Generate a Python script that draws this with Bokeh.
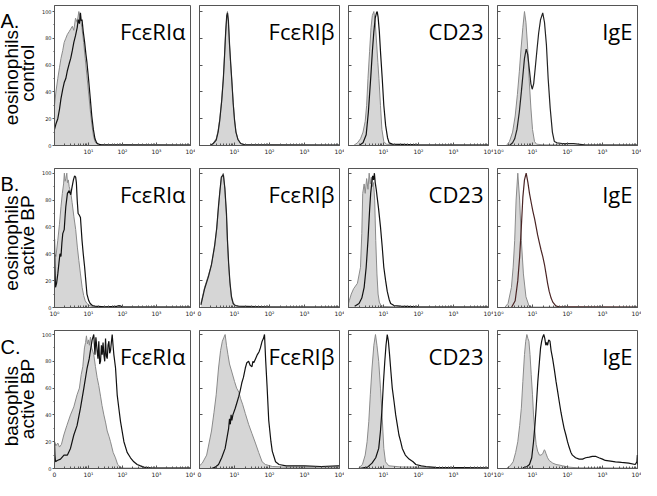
import math
from bokeh.plotting import figure
from bokeh.models import Range1d, FixedTicker, Label
from bokeh.layouts import row, column
from bokeh.embed import file_html
from bokeh.resources import INLINE

# ---------------- data (fluorescence intensity, % of max) ----------------
MARKERS = ["FcεRIα", "FcεRIβ", "CD23", "IgE"]
ROW_LETTERS = ["A.", "B.", "C."]
ROW_LINE1 = ["eosinophils", "eosinophils", "basophils"]
ROW_LINE2 = ["control", "active BP", "active BP"]
DECADES = [1, 10, 100, 1000, 10000]
X_TICK_LABELS = [
    [["", "10¹", "10²", "10³", "10⁴"], ["", "10¹", "10²", "10³", "10⁴"],
     ["", "10¹", "10²", "10³", "10⁴"], ["10⁰", "10¹", "10²", "10³", "10⁴"]],
    [["10⁰", "10¹", "10²", "10³", "10⁴"], ["0", "10¹", "10²", "10³", "10⁴"],
     ["", "10¹", "10²", "10³", "10⁴"], ["10⁰", "10¹", "10²", "10³", "10⁴"]],
    [["0", "10¹", "10²", "10³", "10⁴"], ["0", "10¹", "10²", "10³", "10⁴"],
     ["", "10¹", "10²", "10³", "10⁴"], ["10⁰", "10¹", "10²", "10³", "10⁴"]],
]
Y_TICKS = [0, 20, 40, 60, 80, 100]
Y_MINOR = [10, 30, 50, 70, 90]

# Row A: eosinophils control
A1_GRAY_X = [1.0, 1.1, 1.25, 1.4, 1.55, 1.75, 1.93, 2.15, 2.4, 2.7, 3.0, 3.35, 3.7, 4.15, 4.65, 5.2, 5.8, 6.4, 7.2, 8.0, 9.0, 10.0, 11.2, 12.5, 14.0, 15.5, 17.3, 20.0, 24.0, 40.0, 10000.0]
A1_GRAY_Y = [30, 40, 50, 58, 65, 71, 77, 80, 83, 85, 87, 89, 86, 95, 92, 100, 94, 88, 77, 65, 52, 40, 27, 16, 7, 3, 1.5, 0.8, 0.5, 0.3, 0.3]
A1_BLACK_X = [1.0, 1.1, 1.25, 1.4, 1.55, 1.75, 1.93, 2.15, 2.4, 2.7, 3.0, 3.35, 3.7, 4.15, 4.65, 5.0, 5.4, 5.8, 6.1, 6.45, 7.0, 7.7, 8.4, 9.0, 10.0, 11.2, 12.5, 13.9, 15.5, 17.3, 19.3, 24.0, 100.0, 10000.0]
A1_BLACK_Y = [12, 16, 20, 27, 35, 42, 47, 50, 56, 61, 65, 71, 77, 82, 88, 94, 91, 99, 93, 94, 85, 77, 68, 62, 50, 36, 22, 12, 5, 2, 1, 0.5, 0.5, 0.3]

A2_GRAY_X = [2.0, 2.5, 3.0, 3.4, 3.8, 4.3, 4.8, 5.2, 5.6, 6.0, 6.3, 6.7, 7.2, 7.8, 8.4, 9.2, 10.0, 11.0, 12.5, 15.0, 20.0, 10000.0]
A2_GRAY_Y = [0, 2, 5, 11, 20, 34, 50, 68, 84, 96, 100, 92, 75, 60, 48, 32, 20, 10, 5, 1.5, 0.5, 0.3]
A2_BLACK_X = [2.0, 2.5, 3.0, 3.4, 3.8, 4.3, 4.8, 5.2, 5.6, 6.0, 6.3, 6.7, 7.2, 7.8, 8.4, 9.2, 10.0, 11.0, 12.5, 15.0, 20.0, 10000.0]
A2_BLACK_Y = [0, 1.5, 4, 10, 19, 33, 50, 67, 85, 97, 99, 93, 76, 61, 48, 31, 19, 10, 4.5, 1.5, 0.5, 0.3]

A3_GRAY_X = [1.4, 1.8, 2.2, 2.6, 3.0, 3.3, 3.6, 4.0, 4.4, 4.8, 5.3, 5.8, 6.3, 6.9, 7.4, 8.2, 9.0, 10.2, 12.0, 20.0, 10000.0]
A3_GRAY_Y = [0, 2, 5, 10, 18, 30, 50, 70, 88, 97, 100, 92, 78, 62, 50, 30, 12, 3, 1, 0.5, 0.3]
A3_BLACK_X = [2.0, 2.6, 3.2, 3.7, 4.3, 4.8, 5.3, 5.8, 6.3, 6.6, 7.0, 7.6, 8.3, 9.2, 10.2, 11.5, 13.0, 14.5, 18.0, 100.0, 10000.0]
A3_BLACK_Y = [0, 2, 8, 25, 50, 70, 85, 95, 99, 100, 96, 85, 68, 50, 30, 15, 6, 2, 1, 0.5, 0.3]

A4_GRAY_X = [1.8, 2.2, 2.7, 3.2, 3.7, 4.2, 4.7, 5.3, 5.9, 6.5, 7.2, 8.0, 9.0, 10.0, 11.4, 13.0, 20.0, 100.0, 10000.0]
A4_GRAY_Y = [0, 3, 10, 22, 38, 55, 72, 88, 100, 92, 75, 50, 28, 12, 3, 1, 0.5, 0.4, 0.3]
A4_BLACK_X = [2.2, 2.7, 3.1, 3.6, 4.2, 4.8, 5.3, 5.9, 6.6, 7.3, 8.2, 9.0, 9.8, 10.8, 12.0, 13.5, 15.0, 17.0, 19.6, 22.0, 25.0, 28.0, 32.0, 37.0, 42.0, 50.0, 70.0, 150.0, 300.0, 10000.0]
A4_BLACK_Y = [0, 2, 5, 12, 25, 40, 52, 65, 72, 68, 56, 46, 42, 46, 58, 72, 84, 94, 99, 92, 75, 50, 28, 10, 3, 2, 1.5, 1.5, 0.5, 0.3]

# Row B: eosinophils active BP
B1_GRAY_X = [1.0, 1.1, 1.25, 1.4, 1.55, 1.7, 1.85, 1.95, 2.05, 2.15, 2.3, 2.4, 2.55, 2.7, 3.0, 3.3, 3.7, 4.2, 4.7, 5.2, 5.8, 6.5, 7.2, 8.0, 9.0, 10.0, 12.5, 15.0, 60.0, 80.0, 100.0, 10000.0]
B1_GRAY_Y = [40, 38, 50, 62, 75, 85, 92, 100, 94, 96, 100, 93, 95, 90, 86, 78, 68, 58, 45, 35, 25, 15, 9, 5, 3, 2, 0.8, 0.5, 0.5, 1.2, 0.5, 0.3]
B1_BLACK_X = [1.0, 1.03, 1.07, 1.15, 1.25, 1.35, 1.45, 1.55, 1.65, 1.75, 1.93, 2.05, 2.15, 2.4, 2.7, 3.0, 3.3, 3.6, 3.9, 4.2, 4.4, 4.65, 4.95, 5.3, 5.8, 6.45, 7.0, 7.7, 9.0, 10.2, 11.2, 13.0, 15.5, 30.0, 70.0, 80.0, 100.0, 10000.0]
B1_BLACK_Y = [51, 30, 15, 18, 25, 33, 40, 38, 48, 55, 58, 68, 75, 85, 87, 84, 90, 95, 98, 97, 93, 80, 70, 69, 67, 50, 40, 30, 10, 5, 3, 1.5, 1, 0.5, 0.8, 1.5, 0.5, 0.3]

B2_GRAY_X = [1.1, 1.4, 1.8, 2.2, 2.7, 3.1, 3.5, 3.8, 4.2, 4.8, 5.3, 5.9, 6.3, 6.8, 7.4, 8.2, 9.2, 10.5, 13.0, 100.0, 10000.0]
B2_GRAY_Y = [3, 15, 24, 32, 45, 58, 75, 85, 96, 100, 88, 68, 48, 32, 18, 7, 2.5, 1.5, 0.8, 0.5, 0.3]
B2_BLACK_X = [1.1, 1.4, 1.8, 2.2, 2.7, 3.1, 3.5, 3.8, 4.2, 4.8, 5.3, 5.9, 6.3, 6.8, 7.4, 8.2, 9.2, 10.5, 13.0, 100.0, 10000.0]
B2_BLACK_Y = [2, 14, 23, 32, 46, 59, 76, 86, 97, 99, 89, 70, 50, 33, 19, 8, 3, 1.5, 1, 0.5, 0.3]

B3_GRAY_X = [1.0, 1.05, 1.2, 1.4, 1.8, 2.2, 2.4, 2.55, 2.8, 3.0, 3.3, 3.6, 3.9, 4.2, 4.5, 4.8, 5.2, 5.6, 6.0, 6.5, 7.0, 7.6, 8.5, 10.0, 20.0, 10000.0]
B3_GRAY_Y = [3, 5, 10, 14, 18, 30, 55, 85, 92, 85, 96, 88, 100, 92, 97, 90, 93, 80, 50, 25, 10, 4, 1.5, 0.8, 0.5, 0.3]
B3_BLACK_X = [1.5, 2.0, 2.4, 2.8, 3.2, 3.6, 4.0, 4.3, 4.6, 4.9, 5.2, 5.5, 5.8, 6.2, 6.6, 7.2, 8.2, 9.2, 10.2, 11.5, 12.8, 14.5, 16.0, 20.0, 30.0, 100.0, 10000.0]
B3_BLACK_Y = [1, 3, 7, 15, 30, 50, 72, 85, 92, 98, 95, 100, 93, 88, 82, 74, 60, 45, 30, 20, 12, 6, 3, 1.5, 1, 0.5, 0.3]

B4_GRAY_X = [1.6, 2.0, 2.5, 2.8, 3.1, 3.4, 3.8, 4.3, 4.8, 5.5, 6.5, 8.0, 10.0, 10000.0]
B4_GRAY_Y = [0, 3, 15, 30, 50, 80, 100, 80, 50, 25, 8, 1, 0.3, 0.3]
B4_BLACK_X = [2.5, 3.2, 3.8, 4.3, 4.8, 5.3, 5.9, 6.6, 7.4, 8.2, 9.2, 10.2, 11.5, 12.7, 14.0, 15.8, 17.5, 19.6, 22.0, 24.4, 27.0, 30.0, 34.0, 38.0, 47.0, 60.0, 200.0, 10000.0]
B4_BLACK_Y = [0, 5, 20, 38, 60, 82, 95, 100, 93, 85, 78, 72, 66, 60, 54, 48, 43, 38, 32, 25, 18, 12, 7, 4, 1, 0.5, 0.5, 0.3]

# Row C: basophils active BP
C1_GRAY_X = [1.0, 1.1, 1.25, 1.4, 1.6, 1.88, 2.3, 2.95, 3.7, 4.6, 5.4, 6.1, 6.8, 7.6, 8.2, 8.7, 9.3, 10.0, 10.6, 11.4, 12.5, 14.3, 16.0, 17.9, 20.0, 22.6, 25.0, 28.3, 32.0, 35.5, 40.0, 44.4, 53.0, 62.0, 72.0, 87.0, 110.0, 10000.0]
C1_GRAY_Y = [20, 17, 19, 16, 18, 25, 32, 40, 46, 55, 60, 70, 76, 90, 94, 99, 93, 96, 92, 98, 90, 85, 76, 68, 62, 54, 47, 40, 34, 28, 24, 20, 12, 8, 3, 1, 0.3, 0.3]
C1_BLACK_X = [1.0, 1.03, 1.07, 1.2, 1.5, 1.9, 2.4, 2.95, 3.7, 4.6, 5.8, 7.3, 9.1, 10.5, 11.4, 12.8, 14.3, 15.5, 16.5, 17.9, 19.0, 20.1, 21.3, 22.6, 24.0, 25.3, 26.8, 28.3, 30.0, 31.7, 33.5, 35.5, 37.6, 39.8, 42.0, 44.4, 47.0, 49.8, 52.7, 55.7, 62.4, 69.8, 78.0, 87.5, 110.0, 137.0, 172.0, 215.0, 270.0, 338.0, 424.0, 665.0, 10000.0]
C1_BLACK_Y = [20, 10, 5, 6, 7, 10, 10, 15, 25, 32, 45, 60, 75, 82, 88, 96, 100, 85, 98, 88, 82, 95, 78, 80, 92, 85, 94, 85, 80, 97, 84, 82, 92, 95, 86, 88, 94, 100, 92, 85, 75, 55, 45, 35, 20, 12, 8, 5, 3, 2, 1, 0.5, 0.3]

C2_GRAY_X = [1.0, 1.2, 1.6, 2.2, 2.6, 3.0, 3.5, 4.0, 4.5, 5.0, 5.4, 5.9, 6.5, 7.2, 8.4, 10.0, 11.5, 13.3, 15.0, 17.0, 20.4, 25.3, 31.6, 39.6, 49.0, 61.6, 76.0, 120.0, 300.0, 1000.0, 10000.0]
C2_GRAY_Y = [2, 4, 10, 28, 42, 55, 75, 88, 95, 98, 100, 92, 85, 78, 72, 65, 60, 57, 52, 48, 41, 33, 26, 19, 12, 5, 3, 1.5, 1, 1, 1]
C2_BLACK_X = [2.2, 2.8, 3.5, 4.3, 5.4, 6.2, 6.8, 7.2, 7.6, 8.0, 8.4, 9.0, 10.5, 12.0, 13.3, 14.5, 16.2, 18.0, 20.4, 22.5, 25.3, 28.0, 31.6, 33.5, 35.5, 40.0, 45.0, 50.0, 55.0, 61.6, 67.0, 72.0, 78.0, 85.0, 95.0, 110.0, 120.0, 149.0, 187.0, 300.0, 1000.0, 3000.0, 9000.0, 10000.0]
C2_BLACK_Y = [0, 1, 3, 8, 15, 24, 30, 37, 33, 40, 36, 40, 45, 50, 54, 58, 64, 68, 75, 79, 80, 77, 76, 80, 79, 82, 85, 87, 90, 95, 97, 100, 80, 62, 36, 20, 13, 5, 3, 2, 2, 1.5, 2, 2]

C3_GRAY_X = [1.9, 2.5, 3.0, 3.4, 3.8, 4.2, 4.7, 5.3, 5.9, 6.5, 7.3, 8.2, 9.1, 10.2, 11.4, 14.2, 30.0, 100.0, 300.0, 10000.0]
C3_GRAY_Y = [0, 3, 10, 20, 35, 55, 75, 92, 100, 92, 80, 60, 40, 15, 5, 2, 1.2, 1, 0.5, 0.3]
C3_BLACK_X = [2.0, 3.5, 4.7, 6.0, 7.3, 8.2, 9.1, 10.0, 10.9, 11.8, 12.8, 13.8, 14.9, 16.3, 17.8, 20.0, 22.3, 25.0, 27.6, 31.0, 34.4, 42.0, 53.8, 70.0, 84.0, 120.0, 163.0, 300.0, 10000.0]
C3_BLACK_Y = [0, 1, 4, 8, 15, 28, 45, 65, 80, 92, 100, 95, 85, 72, 60, 50, 40, 32, 25, 20, 15, 10, 7, 5, 3, 2, 1.5, 0.8, 0.5]

C4_GRAY_X = [1.8, 2.3, 2.8, 3.3, 3.8, 4.3, 4.8, 5.3, 5.9, 6.4, 6.9, 7.4, 7.9, 8.5, 9.2, 10.0, 10.7, 11.7, 12.7, 14.0, 15.8, 17.5, 19.6, 21.0, 21.9, 23.0, 24.4, 27.0, 30.0, 38.0, 47.0, 60.0, 72.0, 90.0, 111.0, 200.0, 10000.0]
C4_GRAY_Y = [0, 2, 5, 12, 20, 32, 45, 65, 85, 95, 100, 97, 95, 85, 70, 55, 40, 28, 18, 13, 10, 10, 11, 13, 14, 13, 11, 8, 6, 4, 3, 2.5, 2, 1.5, 1, 0.5, 0.3]
C4_BLACK_X = [5.3, 7.0, 8.2, 9.5, 10.7, 11.7, 12.7, 14.2, 15.8, 17.0, 18.3, 19.5, 21.0, 22.5, 24.0, 25.5, 27.0, 29.0, 31.6, 34.0, 37.6, 42.0, 47.0, 52.0, 58.0, 65.0, 72.0, 80.0, 90.0, 100.0, 111.0, 125.0, 138.0, 170.0, 215.0, 270.0, 330.0, 420.0, 510.0, 650.0, 790.0, 1000.0, 1200.0, 1700.0, 2340.0, 3500.0, 5600.0, 8600.0, 9600.0, 9900.0, 10000.0]
C4_BLACK_Y = [0.5, 1.5, 3, 8, 20, 32, 45, 65, 80, 90, 95, 98, 100, 97, 92, 94, 92, 96, 95, 88, 82, 74, 65, 58, 50, 42, 36, 30, 25, 20, 16, 12, 10, 8, 7, 7, 8, 8.5, 9, 9, 8, 7, 6, 5.5, 5, 4.5, 4, 3, 5, 10, 3]

PANELS = [
    [(A1_GRAY_X, A1_GRAY_Y, A1_BLACK_X, A1_BLACK_Y), (A2_GRAY_X, A2_GRAY_Y, A2_BLACK_X, A2_BLACK_Y),
     (A3_GRAY_X, A3_GRAY_Y, A3_BLACK_X, A3_BLACK_Y), (A4_GRAY_X, A4_GRAY_Y, A4_BLACK_X, A4_BLACK_Y)],
    [(B1_GRAY_X, B1_GRAY_Y, B1_BLACK_X, B1_BLACK_Y), (B2_GRAY_X, B2_GRAY_Y, B2_BLACK_X, B2_BLACK_Y),
     (B3_GRAY_X, B3_GRAY_Y, B3_BLACK_X, B3_BLACK_Y), (B4_GRAY_X, B4_GRAY_Y, B4_BLACK_X, B4_BLACK_Y)],
    [(C1_GRAY_X, C1_GRAY_Y, C1_BLACK_X, C1_BLACK_Y), (C2_GRAY_X, C2_GRAY_Y, C2_BLACK_X, C2_BLACK_Y),
     (C3_GRAY_X, C3_GRAY_Y, C3_BLACK_X, C3_BLACK_Y), (C4_GRAY_X, C4_GRAY_Y, C4_BLACK_X, C4_BLACK_Y)],
]

# ---------------- layout / style ----------------
ROW_H = [163, 162, 155]
ROW_TOP = 5
ROW_BOTTOM = [18, 18, 11]
YMAX = [104.5, 103.5, 103.0]
FRAME_W = 140
LABEL_W = 38
FIRST_LEFT = 12
GRAY_FILL = "#d6d6d6"
GRAY_LINE = "#8a8a8a"
FRAME = "#555555"
TICK_TEXT = "#222222"
BLACK_LINES = [["#111111", "#222222", "#111111", "#222222"],
               ["#111111", "#222222", "#111111", "#4a2424"],
               ["#111111", "#111111", "#111111", "#111111"]]
# caption positions inside the caption strip (px from its bottom-left corner)
LETTER_X = 0
LETTER_DROP = 18.2
LINE1_X, LINE2_X = 10.7, 27.3
LINE1_Y = [79, 75, 70]
LINE2_Y = [84, 84, 78]
CAPTION_FONT = "19px"


def make_caption_strip(r):
    H = ROW_H[r]
    f = figure(width=LABEL_W, height=H, x_range=Range1d(0, LABEL_W), y_range=Range1d(0, H),
               output_backend="svg", toolbar_location=None, min_border=0,
               x_axis_location=None, y_axis_location=None)
    f.grid.visible = False
    f.outline_line_color = None
    f.background_fill_color = "white"
    f.border_fill_color = "white"
    f.add_layout(Label(x=LETTER_X, y=H - LETTER_DROP, text=ROW_LETTERS[r],
                       text_font="Liberation Sans", text_font_size="20px",
                       text_align="left", text_baseline="alphabetic", text_color="black"))
    f.add_layout(Label(x=LINE1_X, y=LINE1_Y[r], text=ROW_LINE1[r], angle=math.pi / 2,
                       text_font="Liberation Sans", text_font_size=CAPTION_FONT,
                       text_align="center", text_baseline="middle", text_color="black"))
    f.add_layout(Label(x=LINE2_X, y=LINE2_Y[r], text=ROW_LINE2[r], angle=math.pi / 2,
                       text_font="Liberation Sans", text_font_size=CAPTION_FONT,
                       text_align="center", text_baseline="middle", text_color="black"))
    return f


def make_panel(r, j):
    gx, gy, bx, by = PANELS[r][j]
    left = FIRST_LEFT if j == 0 else 4
    right = 4 if j == 3 else 5
    p = figure(width=left + FRAME_W + right, height=ROW_H[r], x_axis_type="log",
               x_range=Range1d(1, 10000), y_range=Range1d(0, YMAX[r]),
               output_backend="svg", toolbar_location=None,
               min_border_left=left, min_border_right=right,
               min_border_top=ROW_TOP, min_border_bottom=ROW_BOTTOM[r])
    p.grid.visible = False
    p.outline_line_color = FRAME
    p.outline_line_width = 1
    p.background_fill_color = "white"
    p.border_fill_color = "white"

    p.varea(x=gx, y1=0, y2=gy, fill_color=GRAY_FILL)
    p.line(gx, gy, line_color=GRAY_LINE, line_width=1)
    p.line(bx, by, line_color=BLACK_LINES[r][j], line_width=1.2)

    labels = X_TICK_LABELS[r][j]
    shown = [(t, lab) for t, lab in zip(DECADES, labels) if lab]
    xa = p.xaxis[0]
    xa.ticker = FixedTicker(ticks=[t for t, _ in shown],
                            minor_ticks=[m * 10 ** d for d in range(4) for m in range(2, 10)])
    xa.major_label_overrides = {float(t): lab for t, lab in shown}
    xa.major_label_text_font = "DejaVu Sans"
    xa.major_label_text_font_size = "6px"
    xa.major_label_text_color = TICK_TEXT
    xa.major_label_standoff = 2
    xa.major_tick_in = 3
    xa.major_tick_out = 0
    xa.minor_tick_in = 2
    xa.minor_tick_out = 0
    xa.axis_line_color = FRAME
    xa.major_tick_line_color = FRAME
    xa.minor_tick_line_color = FRAME

    ya = p.yaxis[0]
    ya.ticker = FixedTicker(ticks=Y_TICKS, minor_ticks=Y_MINOR)
    ya.axis_line_color = FRAME
    ya.major_tick_line_color = FRAME
    ya.minor_tick_line_color = FRAME
    if j == 0:
        ya.major_label_text_font = "DejaVu Sans"
        ya.major_label_text_font_size = "5px"
        ya.major_label_text_color = TICK_TEXT
        ya.major_label_standoff = 1
        ya.major_tick_out = 2
        ya.major_tick_in = 0
        ya.minor_tick_out = 1
        ya.minor_tick_in = 0
    else:
        ya.major_label_text_font_size = "0px"
        ya.major_label_text_color = None
        ya.major_label_standoff = 0
        ya.major_tick_in = 3
        ya.major_tick_out = 0
        ya.minor_tick_in = 0
        ya.minor_tick_out = 0

    p.add_layout(Label(x=10000, y=YMAX[r], x_offset=-5, y_offset=-25, text=MARKERS[j],
                       text_font="Open Sans", text_font_size="22px", text_align="right",
                       text_baseline="alphabetic", text_color="black"))
    return p


rows = [row(make_caption_strip(r), *[make_panel(r, j) for j in range(4)]) for r in range(3)]
layout = column(*rows)

open("out.html", "w").write(file_html(layout, INLINE))
